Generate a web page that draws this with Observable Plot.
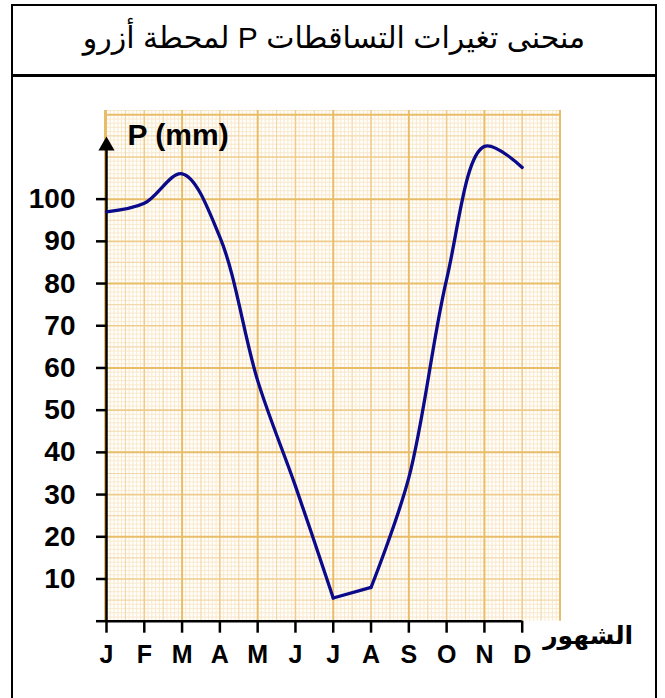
<!DOCTYPE html>
<html>
<head>
<meta charset="utf-8">
<script src="https://cdn.jsdelivr.net/npm/d3@7"></script>
<script src="https://cdn.jsdelivr.net/npm/@observablehq/plot@0.6"></script>
<style>
  html, body { margin: 0; padding: 0; background: #ffffff; }
  body { width: 665px; height: 698px; overflow: hidden; position: relative;
         font-family: "Liberation Sans", Arial, "DejaVu Sans", sans-serif; }
  #box { position: absolute; left: 11px; top: 4px; width: 646px; height: 740px;
         border: 2.5px solid #000; box-sizing: border-box; z-index: 2; pointer-events: none; }
  #divider { position: absolute; left: 11px; top: 74px; width: 646px; height: 2.5px; background: #000; z-index: 2; }
  #title { position: absolute; left: 11px; top: 2px; width: 646px; height: 71px;
           display: flex; align-items: center; justify-content: center;
           font-size: 30px; color: #000; direction: rtl; }
  #chart { position: absolute; left: 0; top: 78px; }
</style>
</head>
<body>
<div id="box"></div>
<div id="divider"></div>
<div id="title"></div>
<div id="chart"></div>
<script>
// ---- data ----
const titleText = "منحنى تغيرات التساقطات P لمحطة أزرو";
const yLabel = "P (mm)";
const xLabel = "الشهور";
const months = ["J", "F", "M", "A", "M", "J", "J", "A", "S", "O", "N", "D"];
const precip = [97, 99, 106, 91, 57, 32, 5.5, 8, 34, 81, 112.5, 107.5];
const yTicks = [10, 20, 30, 40, 50, 60, 70, 80, 90, 100];

document.getElementById("title").textContent = titleText;

const data = months.map((m, i) => ({i, m, p: precip[i]}));
// smooth before July minimum, straight July->August, smooth after
const part1 = data.slice(0, 7);
const part2 = data.slice(6, 8);
const part3 = data.slice(7);

// graph-paper grid (in scale units: tenths of a month, millimetres)
const xMax = months.length;          // paper extends one month past D
const yMax = 121;
const gx = d3.range(0, xMax * 10 + 1).map(k => ({v: k / 10, k}));
const gy = d3.range(0, yMax + 1).map(k => ({v: k, k}));

const minorX = gx.filter(d => d.k % 5 !== 0).map(d => d.v);
const halfX = gx.filter(d => d.k % 5 === 0 && d.k % 10 !== 0).map(d => d.v);
const monthX = gx.filter(d => d.k % 10 === 0 && d.k % 20 !== 0).map(d => d.v);
const twoMonthX = gx.filter(d => d.k % 20 === 0 && d.k > 0).map(d => d.v);
const minorY = gy.filter(d => d.k % 5 !== 0).map(d => d.v);
const halfY = gy.filter(d => d.k % 5 === 0 && d.k % 10 !== 0).map(d => d.v);
const tenY = gy.filter(d => d.k % 10 === 0 && d.k % 20 !== 0).map(d => d.v);
const twentyY = gy.filter(d => d.k % 20 === 0 && d.k > 0).map(d => d.v);

const lineColor = "#0a0a8a";
const fontFam = "'Liberation Sans', Arial, 'DejaVu Sans', sans-serif";

const chart = Plot.plot({
  width: 665,
  height: 620,
  marginLeft: 106,
  marginRight: 105.5,
  marginTop: 32,
  marginBottom: 77.3,
  style: {background: "transparent", overflow: "visible", fontFamily: fontFam},
  x: {domain: [0, xMax], axis: null},
  y: {domain: [0, yMax], axis: null},
  marks: [
    Plot.frame({fill: "#fffefa", stroke: null}),
    Plot.ruleX(minorX, {stroke: "#f8e6ca", strokeWidth: 0.9}),
    Plot.ruleY(minorY, {stroke: "#f8e6ca", strokeWidth: 0.9}),
    Plot.ruleX(halfX, {stroke: "#f3d8ab", strokeWidth: 1.2}),
    Plot.ruleY(halfY, {stroke: "#f3d8ab", strokeWidth: 1.2}),
    Plot.ruleX(monthX, {stroke: "#efcb8c", strokeWidth: 1.6}),
    Plot.ruleY(tenY, {stroke: "#efcb8c", strokeWidth: 1.6}),
    Plot.ruleX(twoMonthX, {stroke: "#e9bd68", strokeWidth: 2}),
    Plot.ruleY(twentyY, {stroke: "#e9bd68", strokeWidth: 2}),
    Plot.ruleX([0], {stroke: "#e9bd68", strokeWidth: 3, dx: -1}),

    // axes
    Plot.axisY([0, ...yTicks], {
      tickSize: 10, tickPadding: 21, strokeWidth: 2.5, stroke: "#000",
      fontSize: 28, fontWeight: "bold", fill: "#000",
      tickFormat: d => (d === 0 ? "" : String(d)), label: null
    }),
    Plot.axisX(d3.range(months.length), {
      tickSize: 12, tickPadding: 12, strokeWidth: 2.5, stroke: "#000",
      fontSize: 25, fontWeight: "bold", fill: "#000",
      tickFormat: i => months[i], label: null
    }),
    Plot.ruleY([0], {x1: 0, x2: months.length - 1, stroke: "#000", strokeWidth: 2.5}),
    Plot.ruleX([0], {y1: 0, y2: 112, stroke: "#000", strokeWidth: 2.5}),
    Plot.dot([{x: 0, y: 112.6}], {x: "x", y: "y", symbol: "triangle", r: 6, fill: "#000", stroke: null}),
    Plot.text([yLabel], {x: 0, y: 115, dx: 21, textAnchor: "start", fontSize: 30, fontWeight: "bold", fill: "#000"}),
    Plot.text([xLabel], {x: months.length - 1, y: 0, dx: 66, dy: 15, textAnchor: "middle", fontSize: 25, fontWeight: "bold", fill: "#000", fontFamily: "'DejaVu Sans', sans-serif"}),

    // precipitation curve
    Plot.line(part1, {x: "i", y: "p", curve: "catmull-rom", stroke: lineColor, strokeWidth: 3.3}),
    Plot.line(part2, {x: "i", y: "p", curve: "linear", stroke: lineColor, strokeWidth: 3.3}),
    Plot.line(part3, {x: "i", y: "p", curve: "catmull-rom", stroke: lineColor, strokeWidth: 3.3})
  ]
});
document.getElementById("chart").appendChild(chart);
</script>
</body>
</html>
